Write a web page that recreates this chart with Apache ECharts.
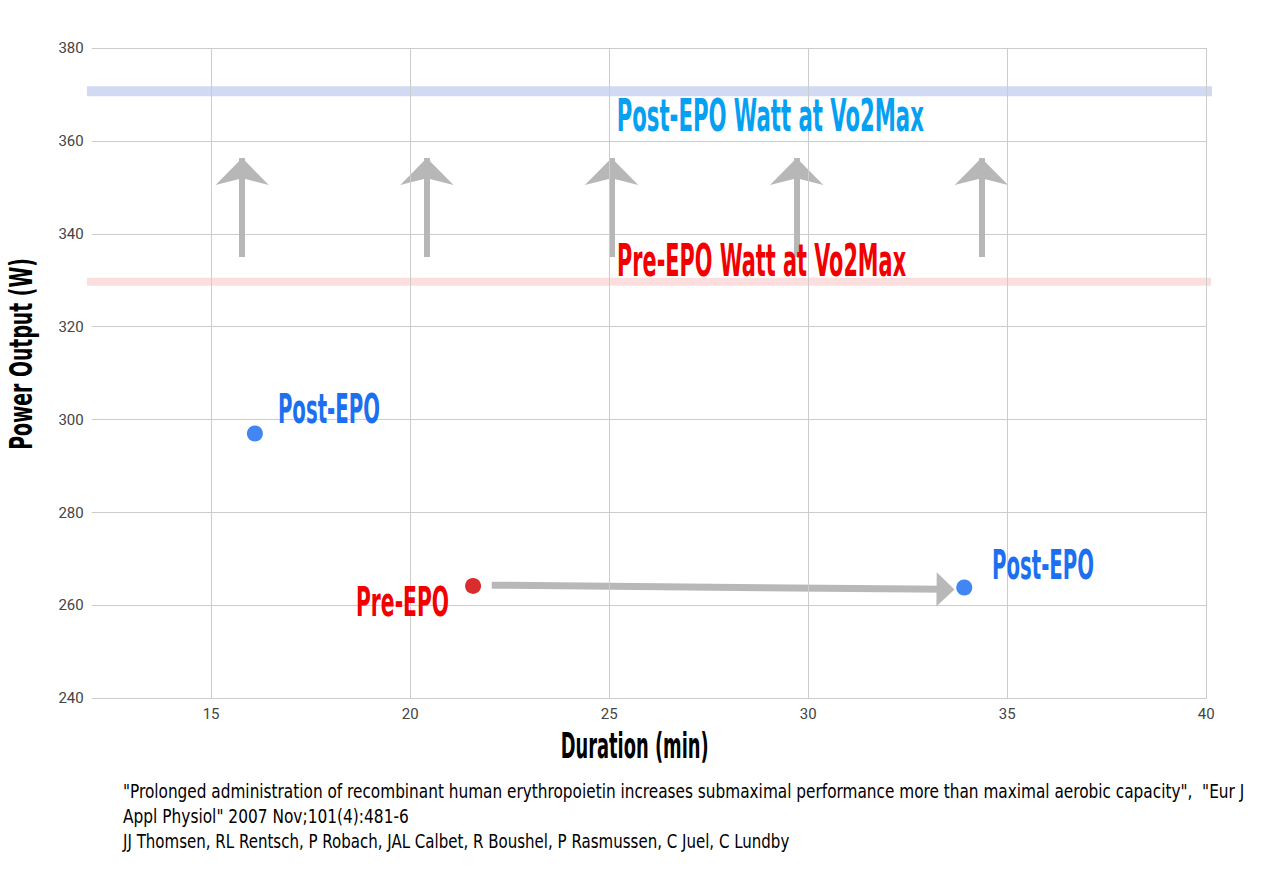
<!DOCTYPE html>
<html><head><meta charset="utf-8">
<script src="https://cdn.jsdelivr.net/npm/echarts@6/dist/echarts.min.js"></script>
<style>html,body{margin:0;padding:0;background:#fff}#c{width:1263px;height:872px}</style>
</head><body><div id="c"></div>
<script>
// ---- data ----
const xTicks = [15, 20, 25, 30, 35, 40];
const xMin = 12, xMax = 40;
const yMin = 240, yMax = 380, yStep = 20;
const pointLabels = ['Post-EPO', 'Pre-EPO', 'Post-EPO'];
const durations = [16.1, 21.58, 33.92];
const powers = [297.0, 264.2, 263.86];
const vo2Labels = ['Post-EPO Watt at Vo2Max', 'Pre-EPO Watt at Vo2Max'];
const vo2Watts = [370.7, 329.7];
const bandSpan = [11.88, 40.22];
const upArrowX = [15.78, 20.42, 25.06, 29.71, 34.35];
const upArrowFrom = 335.0, upArrowTo = 356.3;
const shiftFrom = [22.05, 264.35], shiftTo = [33.45, 263.45];
const xTitle = 'Duration (min)';
const yTitle = 'Power Output (W)';
const captionLines = [
  '"Prolonged administration of recombinant human erythropoietin increases submaximal performance more than maximal aerobic capacity",  "Eur J',
  'Appl Physiol" 2007 Nov;101(4):481-6',
  'JJ Thomsen, RL Rentsch, P Robach, JAL Calbet, R Boushel, P Rasmussen, C Juel, C Lundby'
];

// ---- styles ----
const COND = '"Liberation Sans Narrow", "DejaVu Sans Condensed", "Liberation Sans", Arial, sans-serif';
const blueDot = '#4285f4', redDot = '#d92c2c';
const blueText = '#1b6ff0', redText = '#f20000', bandBlueText = '#06a0f2';

const chart = echarts.init(document.getElementById('c'), null, {renderer: 'svg'});

const option = {
  animation: false,
  backgroundColor: '#fff',
  grid: {left: 91.7, right: 56.7, top: 48, bottom: 173.7},
  xAxis: {
    type: 'value', min: xMin, max: xMax, interval: 1,
    axisLine: {show: false}, axisTick: {show: false}, splitLine: {show: false},
    axisLabel: {
      color: '#444', fontSize: 15, fontFamily: 'Roboto, Arial, sans-serif', margin: 8,
      formatter: v => xTicks.includes(v) ? String(v) : ''
    }
  },
  yAxis: {
    type: 'value', min: yMin, max: yMax, interval: yStep,
    axisLine: {show: false}, axisTick: {show: false},
    splitLine: {lineStyle: {color: '#cccccc', width: 1}},
    axisLabel: {color: '#444', fontSize: 15, fontFamily: 'Roboto, Arial, sans-serif', margin: 8}
  },
  series: [
    {
      type: 'scatter', name: 'grid', data: [], silent: true,
      markLine: {
        silent: true, symbol: ['none', 'none'], label: {show: false},
        lineStyle: {color: '#cccccc', width: 1, type: 'solid'},
        data: xTicks.map(v => ({xAxis: v}))
      }
    },
    {
      type: 'line', name: 'band-post', clip: false, silent: true, symbol: 'none', z: 3,
      lineStyle: {color: 'rgba(74,108,208,0.25)', width: 10},
      data: [[bandSpan[0], vo2Watts[0]], [bandSpan[1], vo2Watts[0]]]
    },
    {
      type: 'line', name: 'band-pre', clip: false, silent: true, symbol: 'none', z: 3,
      lineStyle: {color: 'rgba(244,60,60,0.17)', width: 8},
      data: [[bandSpan[0], vo2Watts[1]], [bandSpan[1], vo2Watts[1]]]
    },
    {
      type: 'scatter', name: 'arrows', data: [], silent: true, z: 4,
      markLine: {
        silent: true, label: {show: false}, z: 4,
        lineStyle: {color: '#b7b7b7', width: 6, type: 'solid', opacity: 1},
        symbol: ['none', 'arrow'], symbolSize: [40, 27],
        data: upArrowX.map(x => [{coord: [x, upArrowFrom]}, {coord: [x, upArrowTo]}])
      }
    },
    {
      type: 'scatter', name: 'shift', data: [], silent: true, z: 4,
      markLine: {
        silent: true, label: {show: false}, z: 4,
        lineStyle: {color: '#b8b8b8', width: 7, type: 'solid', opacity: 1},
        symbol: ['none', 'triangle'], symbolSize: [34, 18],
        data: [[{coord: shiftFrom}, {coord: shiftTo}]]
      }
    },
    {
      type: 'scatter', name: 'points', symbolSize: 16, z: 10,
      data: durations.map((d, i) => ({
        value: [d, powers[i]],
        itemStyle: {color: pointLabels[i] === 'Pre-EPO' ? redDot : blueDot, opacity: 1}
      }))
    }
  ]
};
chart.setOption(option);

// ---- text annotations (fitted condensed text) ----
const mctx = document.createElement('canvas').getContext('2d');
function fitScale(text, font, width) {
  mctx.font = font;
  const w = mctx.measureText(text).width;
  return w > 0 ? width / w : 1;
}
function txt(text, x, y, size, weight, color, width, align, rotation) {
  const fontStr = weight + ' ' + size + 'px ' + COND;
  const s = fitScale(text, fontStr, width);
  return {
    type: 'text', x: x, y: y, scaleX: s, scaleY: 1, rotation: rotation || 0, z: 100,
    style: {text: text, font: fontStr, fill: color, align: align || 'left', verticalAlign: 'middle'}
  };
}
const px = p => chart.convertToPixel({gridIndex: 0}, p);
const g = [];
// point labels
const lblOff = [[23, -24, 'left', 102], [-24, 16.5, 'right', 93], [27.7, -22.3, 'left', 102]];
durations.forEach((d, i) => {
  const p = px([d, powers[i]]);
  const o = lblOff[i];
  g.push(txt(pointLabels[i], p[0] + o[0], p[1] + o[1], 40, 'bold',
    pointLabels[i] === 'Pre-EPO' ? redText : blueText, o[3], o[2]));
});
// band labels
const bandLbl = [[616.7, 24, 307, bandBlueText], [617, -21.2, 289, redText]];
vo2Watts.forEach((v, i) => {
  const p = px([xMin, v]);
  const b = bandLbl[i];
  g.push(txt(vo2Labels[i], b[0], p[1] + b[1], 44, 'bold', b[3], b[2], 'left'));
});
// axis titles
g.push(txt(xTitle, 560.7, 746, 35, 'bold', '#000', 148, 'left'));
g.push(txt(yTitle, 21, 354, 32, 'bold', '#000', 192, 'center', Math.PI / 2));
// caption
const capY = [791, 816, 841];
const capW = [1122, 286, 667];
captionLines.forEach((l, i) => g.push(txt(l, 123, capY[i], 20, 'normal', '#000', capW[i], 'left')));
chart.setOption({graphic: g});
</script>
</body></html>
